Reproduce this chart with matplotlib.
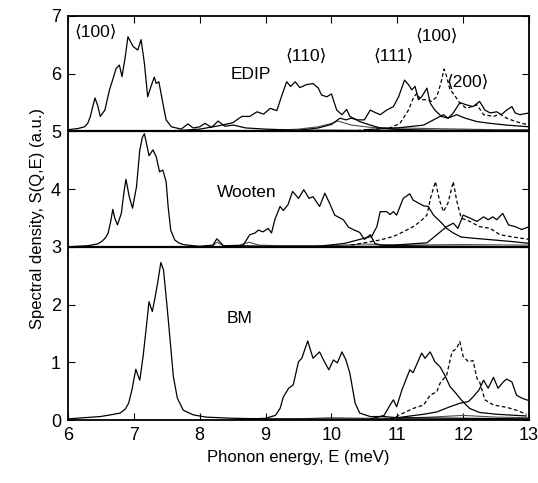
import numpy as np
import matplotlib.pyplot as plt

plt.rcParams['font.family'] = ['Liberation Sans', 'DejaVu Sans']

# Offsets for each potential (stacked panels)
OFFSETS = {'EDIP': 5.0, 'Wooten': 3.0, 'BM': 0.0}

# ---- EDIP ----
edip_100_E = [6.0, 6.15, 6.25, 6.3, 6.34, 6.38, 6.41, 6.45, 6.49, 6.56, 6.63, 6.68, 6.73, 6.78, 6.82, 6.87,
              6.91, 6.99, 7.06, 7.11, 7.16, 7.21, 7.26, 7.31, 7.34, 7.38, 7.44, 7.49, 7.57, 7.72, 7.82, 7.9,
              8.0, 8.08, 8.18, 8.28, 8.38, 8.51, 8.7, 9.0, 9.5, 10.0, 11.0, 13.0]
edip_100_S = [0.03, 0.05, 0.08, 0.14, 0.26, 0.45, 0.58, 0.45, 0.26, 0.37, 0.72, 0.9, 1.09, 1.15, 0.95, 1.3,
              1.64, 1.47, 1.41, 1.59, 1.18, 0.6, 0.78, 0.94, 0.83, 0.86, 0.49, 0.2, 0.08, 0.04, 0.13, 0.06,
              0.08, 0.14, 0.07, 0.18, 0.09, 0.11, 0.06, 0.04, 0.02, 0.02, 0.01, 0.01]
edip_110_E = [7.6, 8.0, 8.3, 8.5, 8.64, 8.76, 8.87, 8.97, 9.07, 9.17, 9.24, 9.32, 9.38, 9.45, 9.52, 9.62, 9.72,
              9.8, 9.85, 9.93, 10.0, 10.08, 10.16, 10.23, 10.28, 10.43, 10.59, 10.74, 10.89, 11.2, 11.6, 12.0, 13.0]
edip_110_S = [0.01, 0.04, 0.1, 0.15, 0.26, 0.26, 0.34, 0.3, 0.4, 0.36, 0.6, 0.86, 0.78, 0.86, 0.76, 0.81, 0.83,
              0.75, 0.63, 0.6, 0.65, 0.37, 0.29, 0.38, 0.26, 0.17, 0.11, 0.06, 0.04, 0.03, 0.02, 0.02, 0.01]
edip_111_E = [9.5, 9.8, 10.0, 10.13, 10.22, 10.3, 10.4, 10.5, 10.59, 10.66, 10.74, 10.84, 10.94, 11.02, 11.11,
              11.17, 11.22, 11.27, 11.32, 11.37, 11.45, 11.5, 11.57, 11.67, 11.77, 11.9, 12.03, 12.21, 12.41,
              12.66, 13.0]
edip_111_S = [0.02, 0.06, 0.12, 0.23, 0.2, 0.23, 0.2, 0.2, 0.37, 0.33, 0.29, 0.37, 0.43, 0.6, 0.89, 0.81, 0.72,
              0.78, 0.55, 0.6, 0.75, 0.49, 0.37, 0.26, 0.23, 0.29, 0.23, 0.17, 0.14, 0.11, 0.08]
edip_100b_E = [10.3, 10.6, 10.89, 11.04, 11.17, 11.25, 11.3, 11.35, 11.45, 11.52, 11.6, 11.66, 11.71, 11.75,
               11.8, 11.85, 11.95, 12.05, 12.21, 12.31, 12.46, 12.56, 12.66, 12.8, 13.0]
edip_100b_S = [0.01, 0.03, 0.06, 0.14, 0.37, 0.6, 0.66, 0.55, 0.55, 0.52, 0.6, 0.83, 1.08, 0.95, 0.72, 0.66,
               0.49, 0.4, 0.46, 0.29, 0.26, 0.3, 0.23, 0.17, 0.11]
edip_200_E = [10.5, 11.0, 11.4, 11.6, 11.7, 11.77, 11.85, 11.95, 12.05, 12.15, 12.25, 12.33, 12.41, 12.51,
              12.58, 12.66, 12.74, 12.79, 12.86, 13.0]
edip_200_S = [0.03, 0.06, 0.11, 0.23, 0.29, 0.23, 0.32, 0.5, 0.46, 0.43, 0.52, 0.37, 0.32, 0.34, 0.29, 0.37,
              0.43, 0.32, 0.29, 0.32]
edip_low_E = [9.0, 9.5, 9.8, 10.0, 10.1, 10.3, 10.6, 11.0, 11.5, 12.0, 12.5, 13.0]
edip_low_S = [0.01, 0.04, 0.08, 0.14, 0.18, 0.11, 0.07, 0.06, 0.05, 0.04, 0.03, 0.03]

# ---- Wooten ----
woot_100_E = [6.0, 6.3, 6.45, 6.52, 6.57, 6.61, 6.65, 6.68, 6.71, 6.75, 6.81, 6.85, 6.88, 6.93, 6.98, 7.04,
              7.09, 7.13, 7.16, 7.19, 7.23, 7.29, 7.34, 7.39, 7.44, 7.49, 7.52, 7.56, 7.62, 7.68, 7.75, 7.9,
              8.0, 8.2, 8.26, 8.36, 8.6, 9.0, 10.0, 13.0]
woot_100_S = [0.0, 0.02, 0.05, 0.1, 0.16, 0.24, 0.45, 0.65, 0.5, 0.38, 0.58, 0.95, 1.17, 0.87, 0.67, 1.04,
              1.68, 1.9, 1.96, 1.8, 1.58, 1.68, 1.56, 1.3, 1.33, 1.13, 0.7, 0.29, 0.12, 0.07, 0.04, 0.02,
              0.01, 0.03, 0.14, 0.02, 0.02, 0.01, 0.01, 0.0]
woot_110_E = [8.3, 8.55, 8.66, 8.76, 8.84, 8.89, 8.96, 9.04, 9.09, 9.14, 9.22, 9.27, 9.34, 9.41, 9.5, 9.58,
              9.66, 9.72, 9.82, 9.9, 9.97, 10.05, 10.18, 10.26, 10.33, 10.43, 10.5, 10.59, 10.66, 10.74, 11.0,
              11.5, 12.0, 13.0]
woot_110_S = [0.0, 0.01, 0.03, 0.21, 0.24, 0.29, 0.26, 0.32, 0.24, 0.47, 0.7, 0.63, 0.73, 0.96, 0.84, 0.99,
              0.84, 0.87, 0.7, 0.93, 0.76, 0.55, 0.47, 0.34, 0.3, 0.25, 0.13, 0.21, 0.06, 0.03, 0.02, 0.01, 0.01,
              0.0]
woot_111_E = [9.8, 10.2, 10.5, 10.61, 10.69, 10.74, 10.84, 10.89, 10.94, 10.99, 11.09, 11.19, 11.24, 11.32,
              11.4, 11.47, 11.55, 11.65, 11.75, 11.85, 11.97, 12.15, 12.46, 12.76, 13.0]
woot_111_S = [0.01, 0.06, 0.15, 0.18, 0.35, 0.61, 0.61, 0.56, 0.61, 0.55, 0.84, 0.92, 0.81, 0.76, 0.71, 0.7,
              0.55, 0.44, 0.32, 0.24, 0.17, 0.15, 0.12, 0.09, 0.06]
woot_100b_E = [10.3, 10.74, 10.94, 11.09, 11.24, 11.35, 11.45, 11.51, 11.58, 11.64, 11.7, 11.77, 11.85, 11.9,
               11.97, 12.1, 12.25, 12.41, 12.56, 12.76, 13.0]
woot_100b_S = [0.03, 0.12, 0.18, 0.26, 0.35, 0.44, 0.55, 0.87, 1.13, 0.81, 0.61, 0.76, 1.13, 0.81, 0.5, 0.44,
               0.35, 0.32, 0.21, 0.17, 0.13]
woot_200_E = [10.8, 11.2, 11.45, 11.6, 11.75, 11.85, 11.92, 12.0, 12.1, 12.21, 12.31, 12.38, 12.45, 12.51,
              12.6, 12.69, 12.79, 12.89, 13.0]
woot_200_S = [0.02, 0.05, 0.07, 0.21, 0.35, 0.41, 0.32, 0.55, 0.5, 0.44, 0.52, 0.47, 0.52, 0.47, 0.58, 0.38,
              0.35, 0.3, 0.35]
woot_low_E = [8.0, 8.2, 8.26, 8.36, 8.6, 8.75, 8.9, 9.2, 10.0, 10.5, 11.0, 12.0, 13.0]
woot_low_S = [0.0, 0.02, 0.08, 0.02, 0.03, 0.08, 0.03, 0.02, 0.02, 0.05, 0.03, 0.04, 0.03]

# ---- BM ----
bm_100_E = [6.0, 6.49, 6.65, 6.79, 6.87, 6.92, 6.97, 7.03, 7.06, 7.09, 7.14, 7.19, 7.23, 7.28, 7.32, 7.36,
            7.41, 7.45, 7.5, 7.55, 7.6, 7.66, 7.75, 7.9, 8.1, 8.5, 9.0, 13.0]
bm_100_S = [0.02, 0.06, 0.09, 0.12, 0.19, 0.29, 0.52, 0.88, 0.78, 0.69, 1.1, 1.62, 2.05, 1.88, 2.11, 2.37,
            2.73, 2.6, 2.02, 1.39, 0.75, 0.38, 0.17, 0.09, 0.05, 0.03, 0.02, 0.01]
bm_110_E = [8.6, 9.0, 9.15, 9.22, 9.27, 9.35, 9.42, 9.5, 9.55, 9.64, 9.72, 9.82, 9.88, 9.96, 10.03, 10.09,
            10.16, 10.22, 10.28, 10.36, 10.43, 10.59, 10.79, 11.0, 13.0]
bm_110_S = [0.01, 0.03, 0.08, 0.2, 0.4, 0.55, 0.61, 1.01, 1.07, 1.37, 1.07, 1.18, 1.04, 0.87, 1.04, 0.99, 1.18,
            1.04, 0.81, 0.29, 0.12, 0.06, 0.06, 0.04, 0.02]
bm_111_E = [10.6, 10.8, 10.89, 10.94, 10.99, 11.07, 11.19, 11.24, 11.37, 11.42, 11.5, 11.57, 11.65, 11.72,
            11.8, 11.87, 11.97, 12.1, 12.25, 12.51, 12.96]
bm_111_S = [0.02, 0.08, 0.26, 0.35, 0.23, 0.52, 0.87, 0.82, 1.16, 1.07, 1.18, 1.01, 0.92, 0.78, 0.58, 0.49,
            0.35, 0.2, 0.13, 0.1, 0.07]
bm_100b_E = [10.7, 10.94, 11.09, 11.24, 11.4, 11.5, 11.6, 11.65, 11.75, 11.83, 11.9, 11.95, 12.0, 12.08,
             12.15, 12.21, 12.25, 12.33, 12.46, 12.66, 12.81, 12.96]
bm_100b_S = [0.0, 0.03, 0.12, 0.2, 0.26, 0.43, 0.49, 0.64, 0.78, 1.18, 1.24, 1.36, 1.1, 1.01, 1.03, 0.72,
             0.66, 0.35, 0.26, 0.22, 0.17, 0.1]
bm_200_E = [11.0, 11.4, 11.6, 11.8, 11.95, 12.08, 12.15, 12.24, 12.31, 12.38, 12.46, 12.53, 12.61, 12.66,
            12.74, 12.81, 12.89, 12.96, 13.0]
bm_200_S = [0.04, 0.1, 0.14, 0.23, 0.29, 0.32, 0.4, 0.52, 0.69, 0.55, 0.74, 0.55, 0.66, 0.71, 0.66, 0.43, 0.38,
            0.35, 0.34]
bm_low_E = [8.5, 9.5, 10.0, 10.5, 11.0, 11.5, 12.0, 12.5, 13.0]
bm_low_S = [0.0, 0.02, 0.04, 0.03, 0.03, 0.05, 0.08, 0.05, 0.04]

SOLID = dict(color='black', lw=0.9)
DASHED = dict(color='black', lw=0.9, ls=(0, (3, 2)))
FAINT = dict(color='0.3', lw=0.8)


def plot_panel(ax, off, curves):
    for E, S, style in curves:
        ax.plot(E, np.array(S) + off, **style)


def main():
    fig = plt.figure(figsize=(5.38, 4.83), dpi=100)
    ax = fig.add_axes([0.1264, 0.1304, 0.8569, 0.8365])

    plot_panel(ax, OFFSETS['EDIP'], [
        (edip_low_E, edip_low_S, FAINT),
        (edip_100_E, edip_100_S, SOLID),
        (edip_110_E, edip_110_S, SOLID),
        (edip_111_E, edip_111_S, SOLID),
        (edip_100b_E, edip_100b_S, DASHED),
        (edip_200_E, edip_200_S, SOLID),
    ])
    plot_panel(ax, OFFSETS['Wooten'], [
        (woot_low_E, woot_low_S, FAINT),
        (woot_100_E, woot_100_S, SOLID),
        (woot_110_E, woot_110_S, SOLID),
        (woot_111_E, woot_111_S, SOLID),
        (woot_100b_E, woot_100b_S, DASHED),
        (woot_200_E, woot_200_S, SOLID),
    ])
    plot_panel(ax, OFFSETS['BM'], [
        (bm_low_E, bm_low_S, FAINT),
        (bm_100_E, bm_100_S, SOLID),
        (bm_110_E, bm_110_S, SOLID),
        (bm_111_E, bm_111_S, SOLID),
        (bm_100b_E, bm_100b_S, DASHED),
        (bm_200_E, bm_200_S, SOLID),
    ])

    # panel separators
    ax.axhline(5.0, color='black', lw=1.6)
    ax.axhline(3.0, color='black', lw=1.6)

    ax.set_xlim(6, 13)
    ax.set_ylim(0, 7)
    ax.set_xticks(range(6, 14))
    ax.set_yticks(range(0, 8))
    ax.tick_params(direction='in', top=True, right=True, length=5, labelsize=13, pad=5)
    for s in ax.spines.values():
        s.set_linewidth(1.3)

    ax.set_xlabel('Phonon energy, E (meV)', fontsize=12)
    ax.set_ylabel('Spectral density, S(Q,E) (a.u.)', fontsize=12)

    fs = 12.5
    ax.text(6.1, 6.72, '\u27e8100\u27e9', fontsize=fs, va='center')
    ax.text(8.77, 5.99, 'EDIP', fontsize=fs, ha='center', va='center')
    ax.text(9.62, 6.3, '\u27e8110\u27e9', fontsize=fs, ha='center', va='center')
    ax.text(10.94, 6.3, '\u27e8111\u27e9', fontsize=fs, ha='center', va='center')
    ax.text(11.6, 6.65, '\u27e8100\u27e9', fontsize=fs, ha='center', va='center')
    ax.text(12.07, 5.85, '\u27e8200\u27e9', fontsize=fs, ha='center', va='center')
    ax.text(8.72, 3.95, 'Wooten', fontsize=fs, ha='center', va='center')
    ax.text(8.6, 1.76, 'BM', fontsize=fs, ha='center', va='center')

    fig.savefig('out.png', dpi=100)
    plt.close(fig)


if __name__ == '__main__':
    main()
